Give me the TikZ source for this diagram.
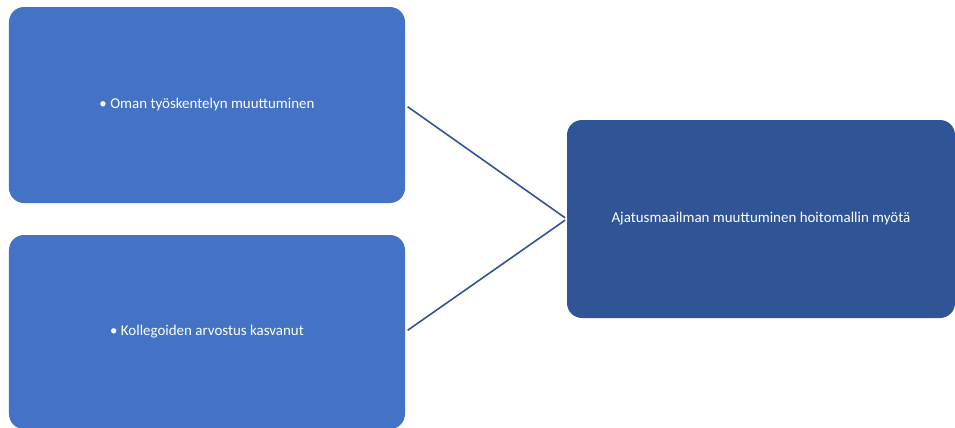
\documentclass[tikz,border=0pt]{standalone}
\usepackage{fontspec}
\setmainfont{Carlito}
\definecolor{boxlight}{HTML}{4472C4}
\definecolor{boxdark}{HTML}{2F5597}
\tikzset{
    itembox/.style={rectangle, rounded corners=15bp, fill=boxlight, text=white,
        minimum width=396bp, font=\fontsize{15}{18}\selectfont},
    mainbox/.style={rectangle, rounded corners=15bp, fill=boxdark, text=white,
        minimum width=388bp, minimum height=198bp, font=\fontsize{15}{18}\selectfont}
}
\begin{document}
\begin{tikzpicture}[x=1bp, y=-1bp]
            \useasboundingbox (0,0) rectangle (955,427);
            % Define the boxes
            \node[itembox, minimum height=196bp] (O1) at (207,105) {• Oman työskentelyn muuttuminen};
            \node[itembox, minimum height=194bp] (K1) at (207,332) {• Kollegoiden arvostus kasvanut};
            \node[mainbox] (A1) at (761,219) {Ajatusmaailman muuttuminen hoitomallin myötä};

            % Draw lines
            \draw[boxdark, line width=1.6bp, shorten <=3bp, shorten >=2bp] (O1.east) -- (A1.west);
            \draw[boxdark, line width=1.6bp, shorten <=3bp, shorten >=2bp] (K1.east) -- (A1.west);
        \end{tikzpicture}
\end{document}
